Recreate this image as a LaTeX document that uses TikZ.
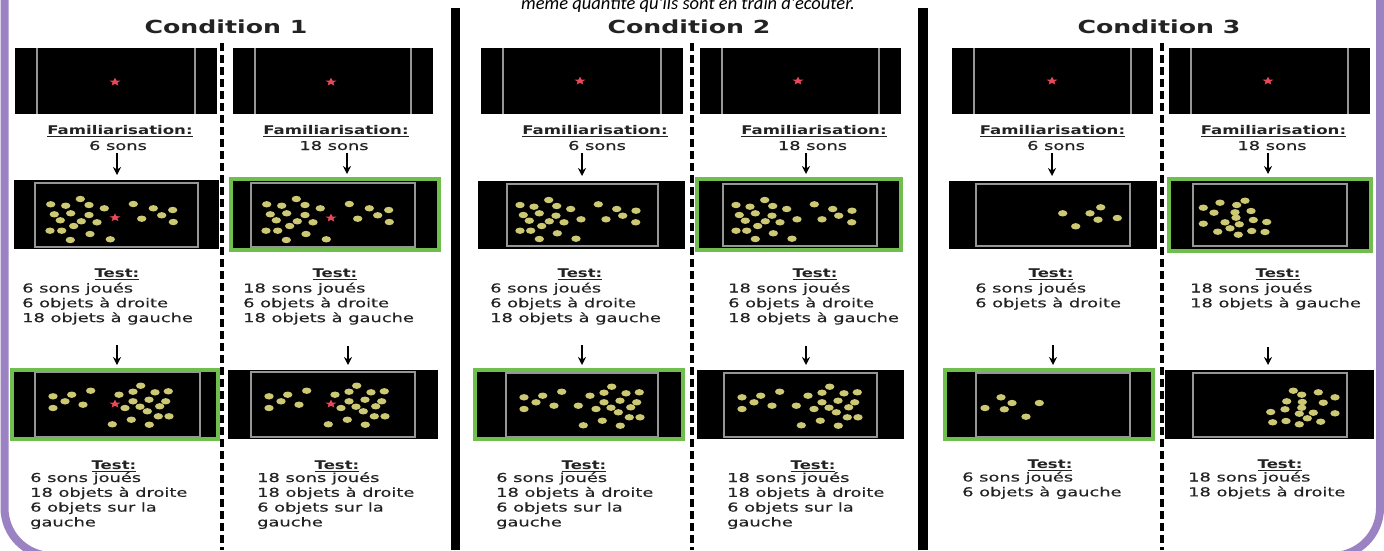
\documentclass[tikz,border=0pt]{standalone}
\usepackage{fontspec}
\usetikzlibrary{arrows.meta,shapes.geometric}
\newfontfamily\bodyf[FakeStretch=1.45,FakeBold=0.4]{DejaVu Sans}
\newfontfamily\lblf[FakeStretch=1.38]{DejaVu Sans}
\newfontfamily\headf[FakeStretch=1.4]{DejaVu Sans}
\newfontfamily\capf{Carlito}
\definecolor{purp}{RGB}{155,130,195}
\definecolor{grn}{RGB}{112,190,78}
\definecolor{dotc}{RGB}{205,200,115}
\definecolor{starc}{RGB}{232,72,90}
\definecolor{innerc}{RGB}{150,150,150}
\definecolor{txtc}{RGB}{35,35,35}
% dot patterns (relative to inner frame top-left)
\def\PA{15.7/21.3,30.7/22.7,45.3/16,54/22,69.3/25.3,98.3/21,118.3/25.3,137.7/27,19.3/31.3,35.7/30.3,54/32,25.3/37.3,46.3/38.3,62/39.3,38.7/43,15/47.7,26.7/47.7,35.3/57,55/51,75.3/56.3,106.7/35.7,126.7/32.3,138.3/39}
\def\PB{13/21,27/22.7,41.7/16,49.7/22,63.7/25,91.3/20.3,109.7/25,129/26.7,16.3/31,32.3/29.3,49/31.7,22.3/36.7,42.3/37.3,57/38.3,34.7/42,13/46.7,23.7/46.7,32.3/55,50.3/49.3,69/54.7,74/35.3,99/35.3,115.7/31.7,128.7/38.3}
\def\PCs{18/24.3,36.7/22.7,55.7/18.7,30/29.3,48/32.7,18/36,84/22.7,98/19.7,105.7/13.7,120/20.3,133.3/19.3,98/29.3,114/27.7,130.7/29.3,90/36,105/34.7,112.3/39.3,124.7/34.3,123.3/44.3,134/44.3,96.3/47.7,77.3/52.3,114.3/52.7}
\def\PC{18/24.3,36.7/22.7,55.7/18.7,30/29.3,48/32.7,18/36,72.3/32.7,84/22.7,98/19.7,105.7/13.7,120/20.3,133.3/19.3,98/29.3,114/27.7,130.7/29.3,90/36,105/34.7,112.3/39.3,124.7/34.3,123.3/44.3,134/44.3,96.3/47.7,77.3/52.3,114.3/52.7}
\def\PD{86.7/29.3,114/29.3,124.7/23.3,122/35.7,141.3/34,99.7/42.3}
\def\PE{10.3/23.7,27/18.7,43.7/21,52/16.7,21/28.7,42/28.3,58/27,43/33.7,10.3/39.7,32/38.3,46.3/40.3,60.3/36,73.7/38,37/44.3,24.7/47.7,45.3/50.7,58.7/47,72/48}
\def\PF{25/24.3,9/35,36/30,28.3/36.3,63.3/30,50/43.7}
\def\PG{100.3/17.7,108.7/21.7,125.3/19.3,142/24.3,93.7/28.3,109.3/29,130.3/29.7,77.7/39,92/36.3,108.7/34.7,106.3/40.7,120.3/39.7,142/40.3,114.3/45.3,79.7/49.3,93/48,106.3/51.3,127.7/48.7}
\newcommand\putdots[3]{\begin{scope}[shift={(#1,#2)}]\foreach \a/\b in #3 {\fill[dotf] (\a,\b) ellipse (4.7pt and 3.2pt);}\end{scope}}
\newcommand\scrtop[3]{%
  \node[scr, minimum width=#3pt, minimum height=66pt] (#1) at (#2,81) {};
  \draw[gl] ([xshift=22pt]#1.north west) -- ([xshift=22pt]#1.south west);
  \draw[gl] ([xshift=-22pt]#1.north east) -- ([xshift=-22pt]#1.south east);}
\newcommand\arrowdown[4]{%
  \coordinate (tmp#2) at (#1.south -| #2.north);
  \draw[arrw] ([xshift=#3pt,yshift=#4pt]tmp#2) -- ([xshift=#3pt,yshift=5pt]#2.north);}
\newcommand\txtlines[4]{%
  \foreach \t [count=\i] in {#4} {\node[bodytxt] (#1-\i) at (#2,{#3+14.8*(\i-1)}) {\t};}}
\begin{document}
\begin{tikzpicture}[x=1pt,y=-1pt,
  scr/.style={fill=black, draw=none, inner sep=0pt, outer sep=0pt},
  gscr/.style={fill=black, draw=grn, line width=4pt, inner sep=0pt, outer sep=0pt},
  gl/.style={draw=innerc, line width=1.2pt},
  dotf/.style={fill=dotc},
  redstar/.style={star, star points=5, star point ratio=2.3, fill=starc, draw=none, inner sep=0pt, minimum size=8.5pt, xscale=1.35},
  bodytxt/.style={font=\bodyf\fontsize{12.3}{15}\selectfont, text=txtc, inner sep=0pt, anchor=base west},
  lbl/.style={font=\lblf\bfseries\fontsize{12}{13}\selectfont, text=txtc, inner sep=0pt, anchor=base},
  headtxt/.style={font=\headf\bfseries\fontsize{18}{20}\selectfont, text=txtc, inner sep=0pt, anchor=base},
  arrw/.style={line width=2.1pt, -{Stealth[length=8pt,width=8pt]}},
  dashsep/.style={line width=3.2pt, dash pattern=on 8pt off 4pt},
  frame/.style={draw=purp, line width=8pt, rounded corners=48pt}]
\useasboundingbox (0,0) rectangle (1384,550);
\clip (0,0) rectangle (1384,550);
\fill[white] (0,0) rectangle (1384,550);
% purple frame
\draw[frame] (4.5,-80) rectangle (1380,556);
% caption (partly above the top edge, as in the reference)
\node[font=\capf\itshape\fontsize{18.5}{20}\selectfont, anchor=base, inner sep=0pt] (cap) at (688,9.5) {même quantité qu'ils sont en train d'écouter.};
% separators
\fill[black] (451,8) rectangle (460,550);
\fill[black] (918,8) rectangle (928,550);
\draw[dashsep] (222,43) -- (222,550);
\draw[dashsep] (692,43) -- (692,550);
\draw[dashsep] (1162,43) -- (1162,550);
% headings
\node[headtxt] (h1) at (226,33.5) {Condition 1};
\node[headtxt] (h2) at (689,33.5) {Condition 2};
\node[headtxt] (h3) at (1159,33.5) {Condition 3};
% row 1 screens
\scrtop{A1}{116}{202}
\scrtop{A2}{333}{200}
\scrtop{A3}{582}{202}
\scrtop{A4}{800.5}{201}
\scrtop{A5}{1052.5}{201}
\scrtop{A6}{1269.5}{201}
\node[redstar] (sa1) at (115,82) {};
\node[redstar] (sa2) at (331,82) {};
\node[redstar] (sa3) at (580,81) {};
\node[redstar] (sa4) at (798,81) {};
\node[redstar] (sa5) at (1052,81) {};
\node[redstar] (sa6) at (1268,81) {};
% familiarisation labels
\node[lbl] (F1) at (120,134.5) {\underline{Familiarisation:}};
\node[lbl] (F2) at (336,134.5) {\underline{Familiarisation:}};
\node[lbl] (F3) at (595,134.5) {\underline{Familiarisation:}};
\node[lbl] (F4) at (814,134.5) {\underline{Familiarisation:}};
\node[lbl] (F5) at (1052.5,134.5) {\underline{Familiarisation:}};
\node[lbl] (F6) at (1273.5,134.5) {\underline{Familiarisation:}};
\node[bodytxt, anchor=base] (S1) at (118,150) {6 sons};
\node[bodytxt, anchor=base] (S2) at (334,150) {18 sons};
\node[bodytxt, anchor=base] (S3) at (597,150) {6 sons};
\node[bodytxt, anchor=base] (S4) at (812.5,150) {18 sons};
\node[bodytxt, anchor=base] (S5) at (1056,150) {6 sons};
\node[bodytxt, anchor=base] (S6) at (1272,150) {18 sons};
% row 2 screens
\node[scr, minimum width=205pt, minimum height=69pt] (B1) at (116.5,214.5) {};
\node[gscr, minimum width=208pt, minimum height=71pt] (B2) at (335,214.5) {};
\node[scr, minimum width=207pt, minimum height=68pt] (B3) at (581.5,215) {};
\node[gscr, minimum width=204pt, minimum height=71pt] (B4) at (799,214.5) {};
\node[scr, minimum width=208pt, minimum height=68pt] (B5) at (1053,215) {};
\node[gscr, minimum width=202pt, minimum height=72pt] (B6) at (1270,215) {};
\draw[gl] (35,183) rectangle (198,247);
\draw[gl] (251,183) rectangle (415,247);
\draw[gl] (507,184) rectangle (658,246);
\draw[gl] (723,184) rectangle (877,246);
\draw[gl] (976,184) rectangle (1130,246);
\draw[gl] (1193,184) rectangle (1347,246);
\putdots{35}{183}{\PA}
\putdots{251}{183}{\PA}
\putdots{507}{184}{\PB}
\putdots{723}{184}{\PB}
\putdots{976}{184}{\PD}
\putdots{1193}{184}{\PE}
\node[redstar] (sb1) at (115,217.7) {};
\node[redstar] (sb2) at (331,218) {};
% arrows row 1 -> row 2
\arrowdown{S1}{B1}{0.5}{-3}
\arrowdown{S2}{B2}{12}{-3}
\arrowdown{S3}{B3}{0.5}{-3}
\arrowdown{S4}{B4}{7}{-3}
\arrowdown{S5}{B5}{-1}{-3}
\arrowdown{S6}{B6}{-2}{-3}
% row 2 texts
\node[lbl] (T1) at (117,277.5) {\underline{Test:}};
\node[lbl] (T2) at (335,277.5) {\underline{Test:}};
\node[lbl] (T3) at (580,277.5) {\underline{Test:}};
\node[lbl] (T4) at (815,277.5) {\underline{Test:}};
\node[lbl] (T5) at (1051,277.5) {\underline{Test:}};
\node[lbl] (T6) at (1278,277.5) {\underline{Test:}};
\txtlines{L1}{22}{292.5}{6 sons joués,6 objets à droite,18 objets à gauche}
\txtlines{L2}{243}{292.5}{18 sons joués,6 objets à droite,18 objets à gauche}
\txtlines{L3}{490}{292.5}{6 sons joués,6 objets à droite,18 objets à gauche}
\txtlines{L4}{728}{292.5}{18 sons joués,6 objets à droite,18 objets à gauche}
\txtlines{L5}{975}{292.5}{6 sons joués,6 objets à droite}
\txtlines{L6}{1190}{292.5}{18 sons joués,18 objets à gauche}
% row 3 screens
\node[gscr, minimum width=206pt, minimum height=69pt] (C1) at (115,404.5) {};
\node[scr, minimum width=210pt, minimum height=69pt] (C2) at (333,404.5) {};
\node[gscr, minimum width=208pt, minimum height=69pt] (C3) at (579,404.5) {};
\node[scr, minimum width=207pt, minimum height=69pt] (C4) at (800.5,404.5) {};
\node[gscr, minimum width=208pt, minimum height=69pt] (C5) at (1049,404.5) {};
\node[scr, minimum width=209pt, minimum height=69pt] (C6) at (1269.5,404.5) {};
\draw[gl] (35,372) rectangle (200,437);
\draw[gl] (251,372) rectangle (415,437);
\draw[gl] (506,373) rectangle (658,437);
\draw[gl] (724,373) rectangle (877,437);
\draw[gl] (976,373) rectangle (1130,437);
\draw[gl] (1193,373) rectangle (1347,437);
\putdots{35}{372}{\PCs}
\putdots{251}{372}{\PCs}
\putdots{506}{373}{\PC}
\putdots{724}{373}{\PC}
\putdots{976}{373}{\PF}
\putdots{1193}{373}{\PG}
\node[redstar] (sc1) at (115,404) {};
\node[redstar] (sc2) at (331,404) {};
% arrows row 2 -> row 3
\arrowdown{B1}{C1}{2}{-96}
\arrowdown{B2}{C2}{15}{-96}
\arrowdown{B3}{C3}{3}{-96}
\arrowdown{B4}{C4}{5.5}{-96}
\arrowdown{B5}{C5}{4}{-96}
\arrowdown{B6}{C6}{-1.5}{-96}
% row 3 texts
\node[lbl] (U1) at (114,469.5) {\underline{Test:}};
\node[lbl] (U2) at (337,469.5) {\underline{Test:}};
\node[lbl] (U3) at (584,469.5) {\underline{Test:}};
\node[lbl] (U4) at (813,469.5) {\underline{Test:}};
\node[lbl] (U5) at (1050,468.5) {\underline{Test:}};
\node[lbl] (U6) at (1280,468.5) {\underline{Test:}};
\txtlines{M1}{30}{482}{6 sons joués,18 objets à droite,6 objets sur la,gauche}
\txtlines{M2}{257}{482}{18 sons joués,18 objets à droite,6 objets sur la,gauche}
\txtlines{M3}{496}{482}{6 sons joués,18 objets à droite,6 objets sur la,gauche}
\txtlines{M4}{727}{482}{18 sons joués,18 objets à droite,6 objets sur la,gauche}
\txtlines{M5}{962}{481.5}{6 sons joués,6 objets à gauche}
\txtlines{M6}{1188}{481.5}{18 sons joués,18 objets à droite}
\end{tikzpicture}
\end{document}
